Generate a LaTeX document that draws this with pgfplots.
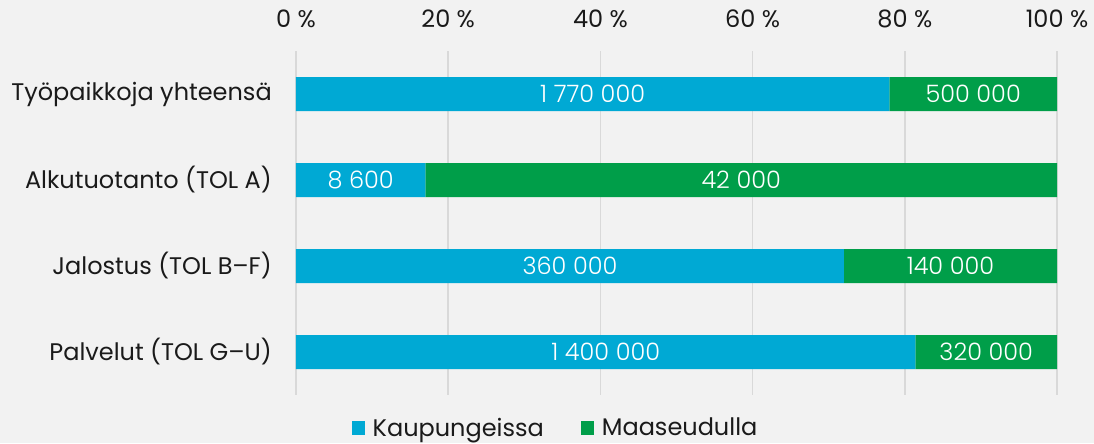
\documentclass[border=0pt]{standalone}
\usepackage{pgfplots}
\pgfplotsset{compat=1.18}
\usepackage{pgfplotstable}
\usepackage{fontspec}
\setmainfont{Poppins}
\newfontfamily\lightfont{Poppins}[UprightFont=* Light]
\definecolor{bg}{HTML}{F2F2F2}
\definecolor{gridc}{HTML}{D9D9D9}
\definecolor{cblue}{HTML}{00A9D4}
\definecolor{cgreen}{HTML}{009E49}
\definecolor{txt}{HTML}{1A1A1A}

% shares of jobs (%), city / rural
\pgfplotstableread[col sep=comma]{
p,c
77.97,0
17.00,1
72.00,2
81.40,3
}\kaup
\pgfplotstableread[col sep=comma]{
p,c
22.03,0
83.00,1
28.00,2
18.60,3
}\maas
% label positions (segment centres) and labels
\pgfplotstableread[col sep=comma]{
m,c,lab
38.985,0,1 770 000
8.50,1,8 600
36.00,2,360 000
40.70,3,1 400 000
88.985,0,500 000
58.50,1,42 000
86.00,2,140 000
90.70,3,320 000
}\labs

\begin{document}
\begin{tikzpicture}
\fill[bg] (-222pt,-36pt) rectangle (598.5pt,296.25pt);
\begin{axis}[
  at={(0,0)}, anchor=south west,
  scale only axis, width=570.75pt, height=258pt,
  xbar stacked, bar width=25.5pt,
  xmin=0, xmax=100, ymin=-0.5, ymax=3.5, y dir=reverse,
  ytick={0,1,2,3},
  yticklabels={Työpaikkoja yhteensä, Alkutuotanto (TOL A), Jalostus (TOL B–F), Palvelut (TOL G–U)},
  xtick={0,20,40,60,80,100},
  xticklabels={0 \%,20 \%,40 \%,60 \%,80 \%,100 \%},
  xticklabel pos=top,
  xmajorgrids, grid style={draw=gridc, line width=1.3pt},
  axis line style={draw=none},
  major tick length=0pt,
  tick label style={font=\fontsize{18}{21}\selectfont, text=txt, inner sep=0pt},
  yticklabel style={anchor=east, xshift=-18pt},
  xticklabel style={anchor=south, yshift=17pt},
  legend columns=2,
  legend style={at={(0.3417,-0.096)}, anchor=center, draw=none, fill=none,
    font=\fontsize{18}{21}\selectfont, text=txt,
    /tikz/every even column/.append style={column sep=26pt}},
  legend image code/.code={\fill[#1] (0pt,-4.9pt) rectangle (9.8pt,4.9pt); \path (13.5pt,0pt);},
]
\addplot[fill=cblue, draw=none] table[x=p, y=c] {\kaup};
\addplot[fill=cgreen, draw=none] table[x=p, y=c] {\maas};
\legend{Kaupungeissa, Maaseudulla}
\end{axis}
\begin{axis}[
  at={(0,0)}, anchor=south west,
  scale only axis, width=570.75pt, height=258pt,
  xmin=0, xmax=100, ymin=-0.5, ymax=3.5, y dir=reverse,
  hide axis, clip=false,
  point meta=explicit symbolic,
]
\addplot[draw=none, mark=none, nodes near coords,
  every node near coord/.append style={anchor=center, text=white, font=\lightfont\fontsize{18}{21}\selectfont}]
  table[x=m, y=c, meta=lab] {\labs};
\end{axis}
\end{tikzpicture}
\end{document}
